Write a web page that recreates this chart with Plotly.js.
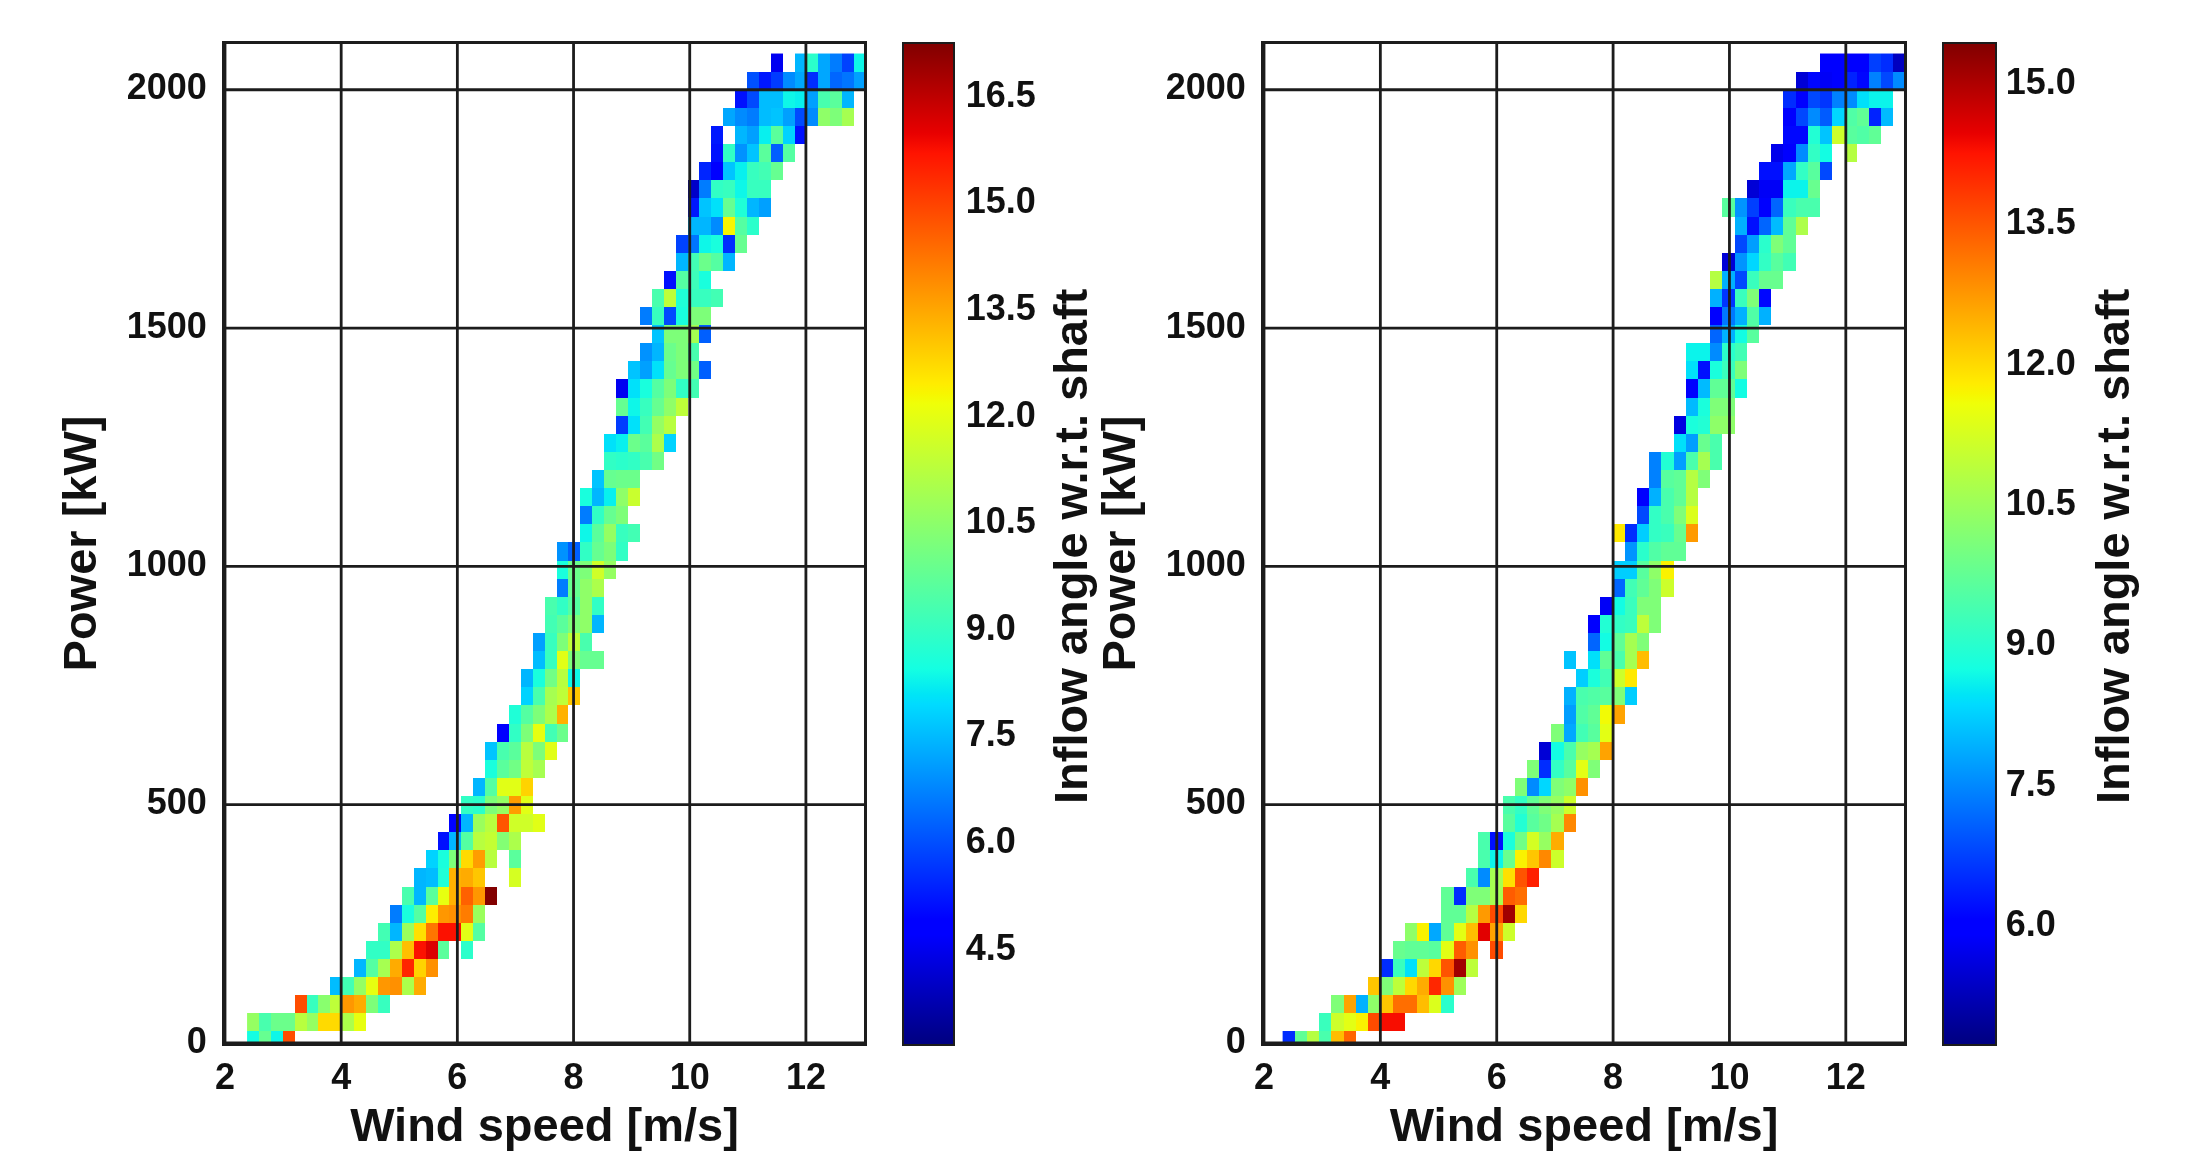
<!DOCTYPE html>
<html>
<head>
<meta charset="utf-8">
<script src="https://cdn.plot.ly/plotly-3.0.1.min.js"></script>
<style>html,body{margin:0;padding:0;background:#fff}#chart{width:2194px;height:1151px;filter:blur(0.6px)}</style>
</head>
<body>
<div id="chart"></div>
<script>
// Power bins and wind-speed bins
const powerStart = 5, powerStep = 38;
const windStartLeft = 2.38, windStepLeft = 0.2048, windColsLeft = 52;
const windStartRight = 2.32, windStepRight = 0.2098, windColsRight = 51;

const xTickVals = [2, 4, 6, 8, 10, 12];
const yTickVals = [0, 500, 1000, 1500, 2000];
const leftBarTicks = [4.5, 6, 7.5, 9, 10.5, 12, 13.5, 15, 16.5];
const leftBarLabels = ['4.5', '6.0', '7.5', '9.0', '10.5', '12.0', '13.5', '15.0', '16.5'];
const rightBarTicks = [6, 7.5, 9, 10.5, 12, 13.5, 15];
const rightBarLabels = ['6.0', '7.5', '9.0', '10.5', '12.0', '13.5', '15.0'];

// First occupied wind bin per power row, then inflow angles (null = empty bin)
const leftStart = [0,0,4,7,9,10,11,12,13,14,15,16,17,18,19,20,20,21,22,23,23,24,24,25,25,26,26,26,28,28,28,29,30,30,31,31,31,32,33,34,33,34,35,36,36,37,37,37,38,39,39,40,41,42,44];
const leftAngles = [
[8.4,9.8,8.3,14.8],
[10.6,9.3,9.9,9.9,11.2,10.6,12.7,12.7,11,12],
[14.8,9,10.4,11.3,13.7,13.4,10.2,9],
[7.5,9.2,10.6,12,13.7,13.8,11,13.4],
[7.4,9.5,10.9,13.4,15.4,12.8,13.8],
[8.9,8.9,11,13.1,15.7,16.1,9.6,null,8.8],
[9.2,7.4,10.7,12.6,14.2,15.7,15.7,11.9,9.5],
[6.6,8.5,9.5,12.4,13.7,13.8,14.1,10.7],
[9.3,7.4,9.6,12,13.3,14.5,13.7,17.2],
[7.4,7.5,8.6,13.3,13.4,13,null,null,11.7],
[7.8,8.5,10.2,12.7,13.6,11.2,null,9.6],
[5.1,7.4,9.5,11.2,11.4,10.3,11],
[4.8,7.4,10.7,11.2,14.7,11.6,11.6,11.9],
[8.9,8.8,10.2,10.6,13.6,11.9],
[7.4,9.5,11.9,11.9,12.8],
[8.5,9.6,10,11.3,10.9],
[7.6,9.3,9.6,11.2,10.2,11.9],
[4.8,8.9,10.2,12,9.2,9.9],
[8.6,9.5,10.2,11,13.3],
[7.8,9.3,10.9,11.3,13],
[7.4,8.5,10,11.2,8.3],
[7.5,9,11.9,10.2,9.8,9.8],
[7.1,9,10.2,11.3,9.3],
[9.2,9.6,10.2,10.5,7.4],
[9.3,8.9,9.5,10.5,8.9],
[6.6,9.8,10.5,11],
[8.5,9.9,10.2,11.6,10.6],
[6.9,6.2,8.9,9.8,10.2,8.9],
[8.3,9.6,10.6,9,9.2],
[6.6,8.9,9.8,10.2],
[8.5,7.4,8.2,10.5,11.5],
[7.6,9.8,9.9,9.9],
[8.9,8.8,8.9,9.3,10],
[8,8.2,9.9,9.6,11,7.8],
[5.7,8,9.2,10.6,11.2],
[9.8,8.3,9,9.8,10.5,11.3],
[4.5,8,8.5,9.5,10.2,8.9,9.2],
[7.6,7.1,8,9.8,10.2,10,6.2],
[6.9,7.4,9.9,10.2,9.3],
[7.6,10.2,10.2,10.9,6.2],
[6.6,9,5.9,8.5,10.2,10.2],
[9.3,11.3,8.6,9,9,9.2],
[5.1,9.5,9.1,8.5],
[7.4,9.2,9.9,9.5,7.4],
[5.8,6.5,8.3,8.5,5.5,9.8],
[7.4,7.4,6.8,12.3,9.5,8.8],
[5.2,7.6,8,9.8,8.6,7.4,7.1],
[4,6.6,8.9,9,8.3,9,9],
[5.4,4.8,7.6,8.2,9,9.2,9.8],
[5.1,8.9,6.9,7.6,9.6,6.2,9.5],
[5.2,null,7.4,7.1,8.2,9.6,7.8,5.1],
[7.2,6.8,6.6,7.5,7.6,7.1,5.9,6.8,10.5,10.2,10.9],
[5.1,5.9,7.5,7.5,8.3,8.2,7.1,9.3,9.6,7.4],
[6,5.2,5.7,6.8,7.2,5.5,7.2,6.3,6.5,7.1],
[4.5,null,7.4,8.8,7.2,6.6,5.8,8.3]
];

const rightStart = [0,3,4,7,8,9,10,13,13,15,16,16,18,18,19,20,21,22,23,23,24,23,25,25,26,27,27,28,27,29,29,30,30,32,32,33,33,33,33,35,35,35,35,36,37,37,36,38,39,40,41,41,41,42,44];
const rightAngles = [
[6.5,9.7,10.8,9.4,12.3,13.3],
[9.2,11.1,11.4,11.7,13.6,14.3,14.3],
[10.1,12.6,7.9,10.3,12.2,13.2,13.2,12.3,11.3,9],
[12.2,10.1,10.9,12,12.5,14,12.8,10.5],
[6.5,9.2,8.4,10.9,12,13.5,15.1,10.9],
[9.8,9.7,9.7,9.6,11.4,13.4,12.8,null,13.6],
[10.3,11.7,7.8,9.7,11.4,12.3,14.5,12.6,11.1],
[9.7,9.7,10.8,12.7,13.6,15.1,12],
[9.7,6.5,10.1,10.1,10.6,13.4,13.2],
[9.4,7.5,10.6,11.9,13.5,14.1],
[9.4,8.6,9.8,11.7,12.2,12.9,11.1],
[9.4,6.2,8.8,9.9,11.2,10.4,12.5],
[9.6,8.9,9.6,9.9,10.6,12.9],
[9.4,9.1,9.7,10.1,10.4,11.1],
[10.1,7.5,8.3,10.1,10.3,12.8],
[10.1,6.5,9.1,9.6,11.4,10.1],
[5.5,8.7,9.4,10.4,10.6,12.6],
[10.1,7.8,9.3,9.6,11.4],
[7.7,9.5,9.7,11.6,12.6],
[7.9,9.4,9.5,9.6,10.1,8.2],
[8.2,8.8,9.3,11.1,11.8],
[8.1,null,8.4,9.7,9.4,10.6,12.3],
[7.1,8.7,9.7,10.6,10.1],
[6,8.9,9.1,9.2,10.9,10.1],
[5.8,8.7,9.2,10.1,10.1],
[7.1,9.3,9.7,10.1,11.1],
[8.2,8.2,9.6,10.3,11.7],
[7.6,9,9.5,9.7,9.7],
[11.8,6.5,8.2,9.1,9.2,9.8,12.7],
[6.8,9.1,9.4,10.1,11.3],
[5.9,7.9,9.4,9.7,10.8],
[7.4,9.6,9.7,10.8,10.1],
[7.4,8.9,7.7,9.4,10.6,9.4],
[8.4,7.7,9.8,9.4],
[5.6,8.8,8.9,10.3,10.3],
[8,8.8,10.1,10.1],
[5.9,8,9.7,9.7,8.7],
[8.4,6.2,8.8,9.2,10.1],
[8.6,8.6,7.5,9,9.3],
[7.1,7.9,8.7,9.6],
[5.9,7.3,7.9,9.5,7.9],
[7.9,6.6,9.2,10.1,6.1],
[10.8,7.9,6.8,9.2,9.8,9.8],
[5.5,7.6,8.3,9.1,9.6,9.3],
[6.8,7.7,9,10.1,9.7],
[7.9,6.2,7.1,8,9.7,10.7],
[9.6,7.6,6.7,5.9,7.1,9.2,9.4,9.4],
[5.5,5.8,5.8,8.6,8.6,9.8],
[6.2,6.2,7.8,9.1,9.6,6.8],
[5.7,5.9,7.5,9.1,8.7,null,10.8],
[6.1,6.1,8.9,8.1,11.1,9.6,9.5,9.7],
[5.9,6.8,7.5,7,8.3,9.5,9.7,6.4,8],
[6.5,5.9,6.8,6.6,7.4,7.5,8.4,8.6,8.6],
[5.5,6.1,5.8,5.9,6.4,6.1,7.4,6.8,7.5],
[5.9,5.9,5.9,5.9,6.7,6.5,5.3]
];

const jet = [
[0,'rgb(0,0,127)'],[0.11,'rgb(0,0,255)'],[0.125,'rgb(0,0,255)'],[0.34,'rgb(0,219,255)'],
[0.35,'rgb(0,229,246)'],[0.375,'rgb(20,255,226)'],[0.64,'rgb(239,255,8)'],[0.65,'rgb(247,246,0)'],
[0.66,'rgb(255,236,0)'],[0.89,'rgb(255,19,0)'],[0.91,'rgb(232,0,0)'],[1,'rgb(128,0,0)']
];

const W = 2194, H = 1151;
const ink = '#1c1c1c';
const face = 'Liberation Sans, Arial, sans-serif';
const tickFont = {family: face, size: 36, color: '#111', weight: 'bold'};
const titleFont = {family: face, size: 47, color: '#111', weight: 'bold'};

function grid(starts, rows, nCols) {
  return rows.map((vals, r) => {
    const line = new Array(nCols).fill(null);
    vals.forEach((v, i) => { if (starts[r] + i < nCols) line[starts[r] + i] = v; });
    return line;
  });
}
function seq(start, step, n) { return Array.from({length: n}, (_, i) => start + step * (i + 0.5)); }
const powerCentres = leftAngles.map((_, r) => powerStart + powerStep * r);

function bar(px, thick, gap, ticks, labels) {
  return {
    x: px / W, xanchor: 'left', xpad: 0,
    y: (H - 1045) / H, yanchor: 'bottom', ypad: 0,
    len: 1002 / H, lenmode: 'fraction',
    thickness: thick, thicknessmode: 'pixels',
    outlinecolor: ink, outlinewidth: 2,
    tickmode: 'array', tickvals: ticks, ticktext: labels,
    ticks: 'outside', ticklen: gap, tickcolor: 'rgba(0,0,0,0)', tickfont: tickFont
  };
}

const traces = [
  {type: 'heatmap', x: seq(windStartLeft, windStepLeft, windColsLeft), y: powerCentres,
   z: grid(leftStart, leftAngles, windColsLeft), zmin: 3.12, zmax: 17.22, colorscale: jet,
   hoverinfo: 'skip', xaxis: 'x', yaxis: 'y', colorbar: bar(903, 51, 4, leftBarTicks, leftBarLabels)},
  {type: 'heatmap', x: seq(windStartRight, windStepRight, windColsRight), y: powerCentres,
   z: grid(rightStart, rightAngles, windColsRight), zmin: 4.70, zmax: 15.41, colorscale: jet,
   hoverinfo: 'skip', xaxis: 'x2', yaxis: 'y2', colorbar: bar(1943, 53, 2, rightBarTicks, rightBarLabels)}
];

function xAxis(a, b, anchor) {
  return {domain: [a / W, b / W], anchor, range: [2, 13], tickmode: 'array', tickvals: xTickVals,
    tickfont: tickFont, showgrid: false, zeroline: false, showline: true, mirror: true,
    linecolor: ink, linewidth: 3, ticks: '', ticklabelstandoff: 0,
    title: {text: 'Wind speed [m/s]', font: titleFont, standoff: 12}};
}
function yAxis(anchor) {
  return {domain: [(H - 1043) / H, (H - 44) / H], anchor, range: [0, 2096], tickmode: 'array', tickvals: yTickVals,
    tickfont: tickFont, showgrid: false, zeroline: false, showline: true, mirror: true,
    linecolor: ink, linewidth: 3, ticks: '', ticklabelstandoff: 8, ticklabelshift: -3,
    title: {text: 'Power [kW]', font: titleFont, standoff: 16}};
}

const shapes = [];
[['x', 'y'], ['x2', 'y2']].forEach(([xr, yr]) => {
  const line = {color: ink, width: 2.8};
  xTickVals.forEach(v => shapes.push({type: 'line', layer: 'above', xref: xr, yref: yr, x0: v, x1: v, y0: 0, y1: 2096, line}));
  yTickVals.forEach(v => shapes.push({type: 'line', layer: 'above', xref: xr, yref: yr, x0: 2, x1: 13, y0: v, y1: v, line}));
});

const annotations = [1070, 2112].map(px => ({
  xref: 'paper', yref: 'paper', x: px / W, y: (H - 546) / H, xanchor: 'center', yanchor: 'middle',
  text: 'Inflow angle w.r.t. shaft', textangle: -90, showarrow: false, font: titleFont
}));

const layout = {
  width: W, height: H, margin: {l: 0, r: 0, t: 0, b: 0},
  paper_bgcolor: '#fff', plot_bgcolor: '#fff', showlegend: false,
  xaxis: xAxis(225, 864, 'y'), yaxis: yAxis('x'),
  xaxis2: xAxis(1264, 1904, 'y2'), yaxis2: yAxis('x2'),
  shapes, annotations
};
Plotly.newPlot('chart', traces, layout, {displayModeBar: false, responsive: false});
</script>
</body>
</html>
